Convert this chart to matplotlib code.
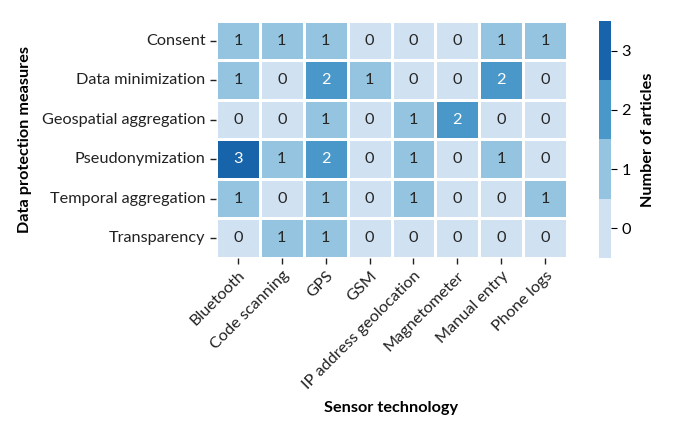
import numpy as np
import pandas as pd
import matplotlib
matplotlib.use("Agg")
import matplotlib.pyplot as plt
import seaborn as sns
from matplotlib.colors import ListedColormap, BoundaryNorm

measures = ["Consent", "Data minimization", "Geospatial aggregation",
            "Pseudonymization", "Temporal aggregation", "Transparency"]
sensors = ["Bluetooth", "Code scanning", "GPS", "GSM", "IP address geolocation",
           "Magnetometer", "Manual entry", "Phone logs"]
counts = [
    [1, 1, 1, 0, 0, 0, 1, 1],
    [1, 0, 2, 1, 0, 0, 2, 0],
    [0, 0, 1, 0, 1, 2, 0, 0],
    [3, 1, 2, 0, 1, 0, 1, 0],
    [1, 0, 1, 0, 1, 0, 0, 1],
    [0, 1, 1, 0, 0, 0, 0, 0],
]
cbar_ticks = [0, 1, 2, 3]

plt.rcParams['font.family'] = ['Lato', 'DejaVu Sans']
FS = 11.7

df = pd.DataFrame(counts, index=measures, columns=sensors)
colors = sns.color_palette("Blues", 4)
cmap = ListedColormap(colors)
norm = BoundaryNorm([-0.5, 0.5, 1.5, 2.5, 3.5], cmap.N)

fig = plt.figure(figsize=(6.85, 4.36), dpi=100)
ax = fig.add_axes([216/685, 1-258/436, (567-216)/685, (258-21)/436])
cax = fig.add_axes([599/685, 1-258/436, 12/685, (258-21)/436])

sns.heatmap(df, ax=ax, cbar_ax=cax, cmap=cmap, norm=norm, annot=True, fmt="d",
            linewidths=1, linecolor="white",
            annot_kws={"fontsize": FS},
            cbar_kws={"ticks": cbar_ticks})

ax.set_xticklabels(sensors, rotation=45, ha="right", rotation_mode="anchor", fontsize=FS)
ax.set_yticklabels(measures, rotation=0, fontsize=FS)
ax.tick_params(axis="both", length=4, width=1, colors="#222222")
ax.set_xlabel("Sensor technology", fontsize=FS, fontweight="bold", labelpad=7)
ax.set_ylabel("Data protection measures", fontsize=FS, fontweight="bold", labelpad=7)

cax.minorticks_off()
cax.tick_params(labelsize=FS, length=4)
cax.set_ylabel("Number of articles", fontsize=FS, fontweight="bold", labelpad=7)
for sp in cax.spines.values():
    sp.set_visible(False)

fig.savefig("out.png", dpi=100)
